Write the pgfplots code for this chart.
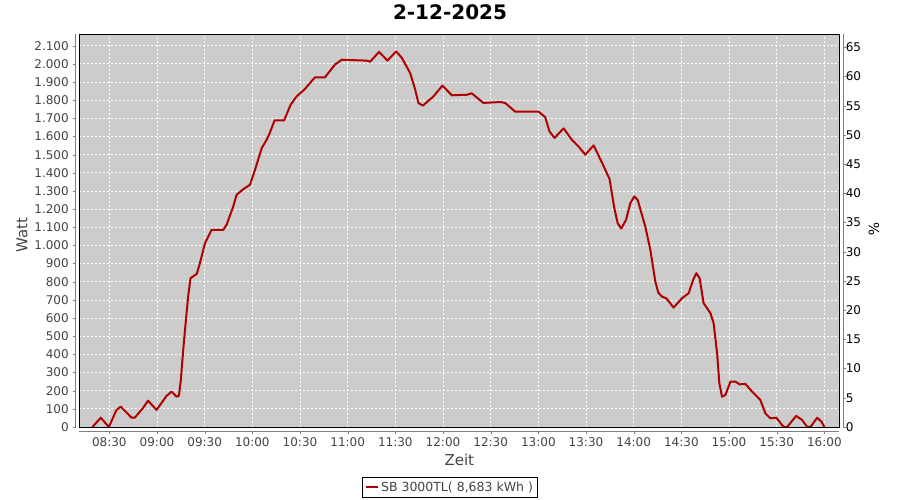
\documentclass[border=0pt]{standalone}
\usepackage{pgfplots}
\pgfplotsset{compat=1.18}
\usepackage{fontspec}
\setmainfont{DejaVu Sans}
\definecolor{plotbg}{HTML}{CCCCCC}
\definecolor{lbl}{HTML}{444444}
\definecolor{axgray}{HTML}{808080}
\definecolor{pvred}{HTML}{B00000}

\begin{document}
\begin{tikzpicture}
\useasboundingbox (0,0) rectangle (900pt,500pt);
\begin{axis}[
  at={(79.3pt,73pt)}, anchor=south west,
  scale only axis, width=760pt, height=392.7pt,
  xmin=491.1, xmax=969.4, ymin=0, ymax=2163,
  axis background/.style={fill=plotbg},
  axis line style={black, line width=0.8pt},
  xtick={510,540,...,960},
  xticklabels={08:30,09:00,09:30,10:00,10:30,11:00,11:30,12:00,12:30,13:00,13:30,14:00,14:30,15:00,15:30,16:00},
  ytick={0,100,...,2100},
  xtick pos=bottom, ytick pos=left,
  tick align=outside, major tick length=3pt,
  xtick style={axgray, yshift=-4pt},
  ytick style={axgray, xshift=-3.6pt},
  grid=major,
  major grid style={white, dash pattern=on 2pt off 2pt, line width=0.8pt},
  tick label style={font=\fontsize{12}{14}\selectfont, text=lbl},
  /pgf/number format/assume math mode=true,
  yticklabel style={/pgf/number format/1000 sep={.}, xshift=-4pt},
  xticklabel style={yshift=-4pt},
  scaled y ticks=false,
  xlabel={Zeit}, ylabel={Watt},
  label style={font=\fontsize{15}{18}\selectfont, text=lbl},
  xlabel style={at={(axis description cs:0.5,-0.084)}, anchor=center},
  ylabel style={at={(axis description cs:-0.0754,0.489)}, anchor=center},
  title={2-12-2025},
  title style={font=\bfseries\fontsize{20}{24}\selectfont, at={(axis description cs:0.4878,1.041)}, anchor=center},
  legend style={at={(axis description cs:0.4878,-0.153)}, anchor=center, draw=black,
    font=\fontsize{12.5}{14}\selectfont, text=lbl, inner sep=2.5pt},
  legend image code/.code={\draw[line width=2pt] (0pt,0pt) -- (12pt,0pt);},
]
\addplot[pvred, line width=2pt, line join=round] coordinates {
(499.4,0) (504.6,51) (509.7,0) (514.5,94) (517.2,112) (524,51) (526,51)
(531.3,106) (534.4,145) (539.7,94) (546,171) (549.2,195) (552.3,167) (553.8,172)
(555,259) (556.5,424) (558.2,590) (559.6,718) (561.1,820) (565,843) (567,902)
(570.2,1013) (574.4,1086) (581.7,1086) (583.8,1114) (588,1215) (590.1,1279)
(594.3,1310) (598.5,1334) (601.7,1417) (605.9,1536) (609,1582) (611,1620)
(614,1689) (620,1689) (624.1,1775) (627.9,1821) (633.1,1862) (639.4,1926)
(645.7,1926) (652,1996) (656.3,2023) (672,2018) (674.1,2012) (679.8,2066)
(685,2018) (690.5,2069) (694.1,2033) (699.3,1950) (702.5,1858) (704.5,1785)
(707.3,1770) (714,1821) (719.6,1880) (725.6,1827) (735,1830) (738,1838)
(745.5,1785) (756,1790) (759.1,1785) (765.4,1737) (780.1,1737) (784.3,1707)
(787,1628) (790.2,1592) (795.9,1645) (801.1,1582) (805.3,1545) (809.5,1500)
(814.8,1551) (820.7,1444) (824.8,1366) (827.8,1206) (829.9,1123) (832.2,1093)
(835.2,1141) (837.9,1233) (840.4,1270) (842.5,1251) (847.3,1104) (850.5,975)
(853.6,801) (855.5,740) (857.8,718) (860.5,709) (865.1,658) (870.4,709)
(874.6,737) (877.4,810) (879.4,847) (881.5,820) (884,682) (888.3,627)
(890.3,572) (892.5,406) (893.9,241) (895.6,167) (897.7,176) (900.9,250)
(904,250) (906.7,235) (910.3,237) (914.5,195) (919.7,149) (922.9,75) (926,48)
(929.8,51) (934.4,0) (936.6,0) (942.2,61) (946,39) (949.2,0) (951.2,0)
(955.5,51) (958.2,29) (960,0)
};
\addlegendentry{SB 3000TL( 8,683 kWh )}
\end{axis}
\begin{axis}[
  at={(79.3pt,73pt)}, anchor=south west,
  scale only axis, width=760pt, height=392.7pt,
  xmin=491.1, xmax=969.4, ymin=0, ymax=67.24,
  hide x axis,
  axis line style={draw=none},
  ytick={0,5,...,65}, ytick pos=right,
  tick align=outside, major tick length=3pt,
  ytick style={axgray, xshift=3.6pt},
  tick label style={font=\fontsize{12}{14}\selectfont, text=black},
  /pgf/number format/assume math mode=true,
  ylabel={\%},
  ylabel style={font=\fontsize{14}{16}\selectfont, at={(axis description cs:1.0457,0.504)}, anchor=center, rotate=180},
]
\end{axis}
\draw[axgray, line width=0.8pt] (75.7pt,73pt) -- (75.7pt,465.7pt);
\draw[axgray, line width=0.8pt] (79.3pt,69pt) -- (839.3pt,69pt);
\draw[axgray, line width=0.8pt] (843.3pt,73pt) -- (843.3pt,465.7pt);
\end{tikzpicture}
\end{document}
